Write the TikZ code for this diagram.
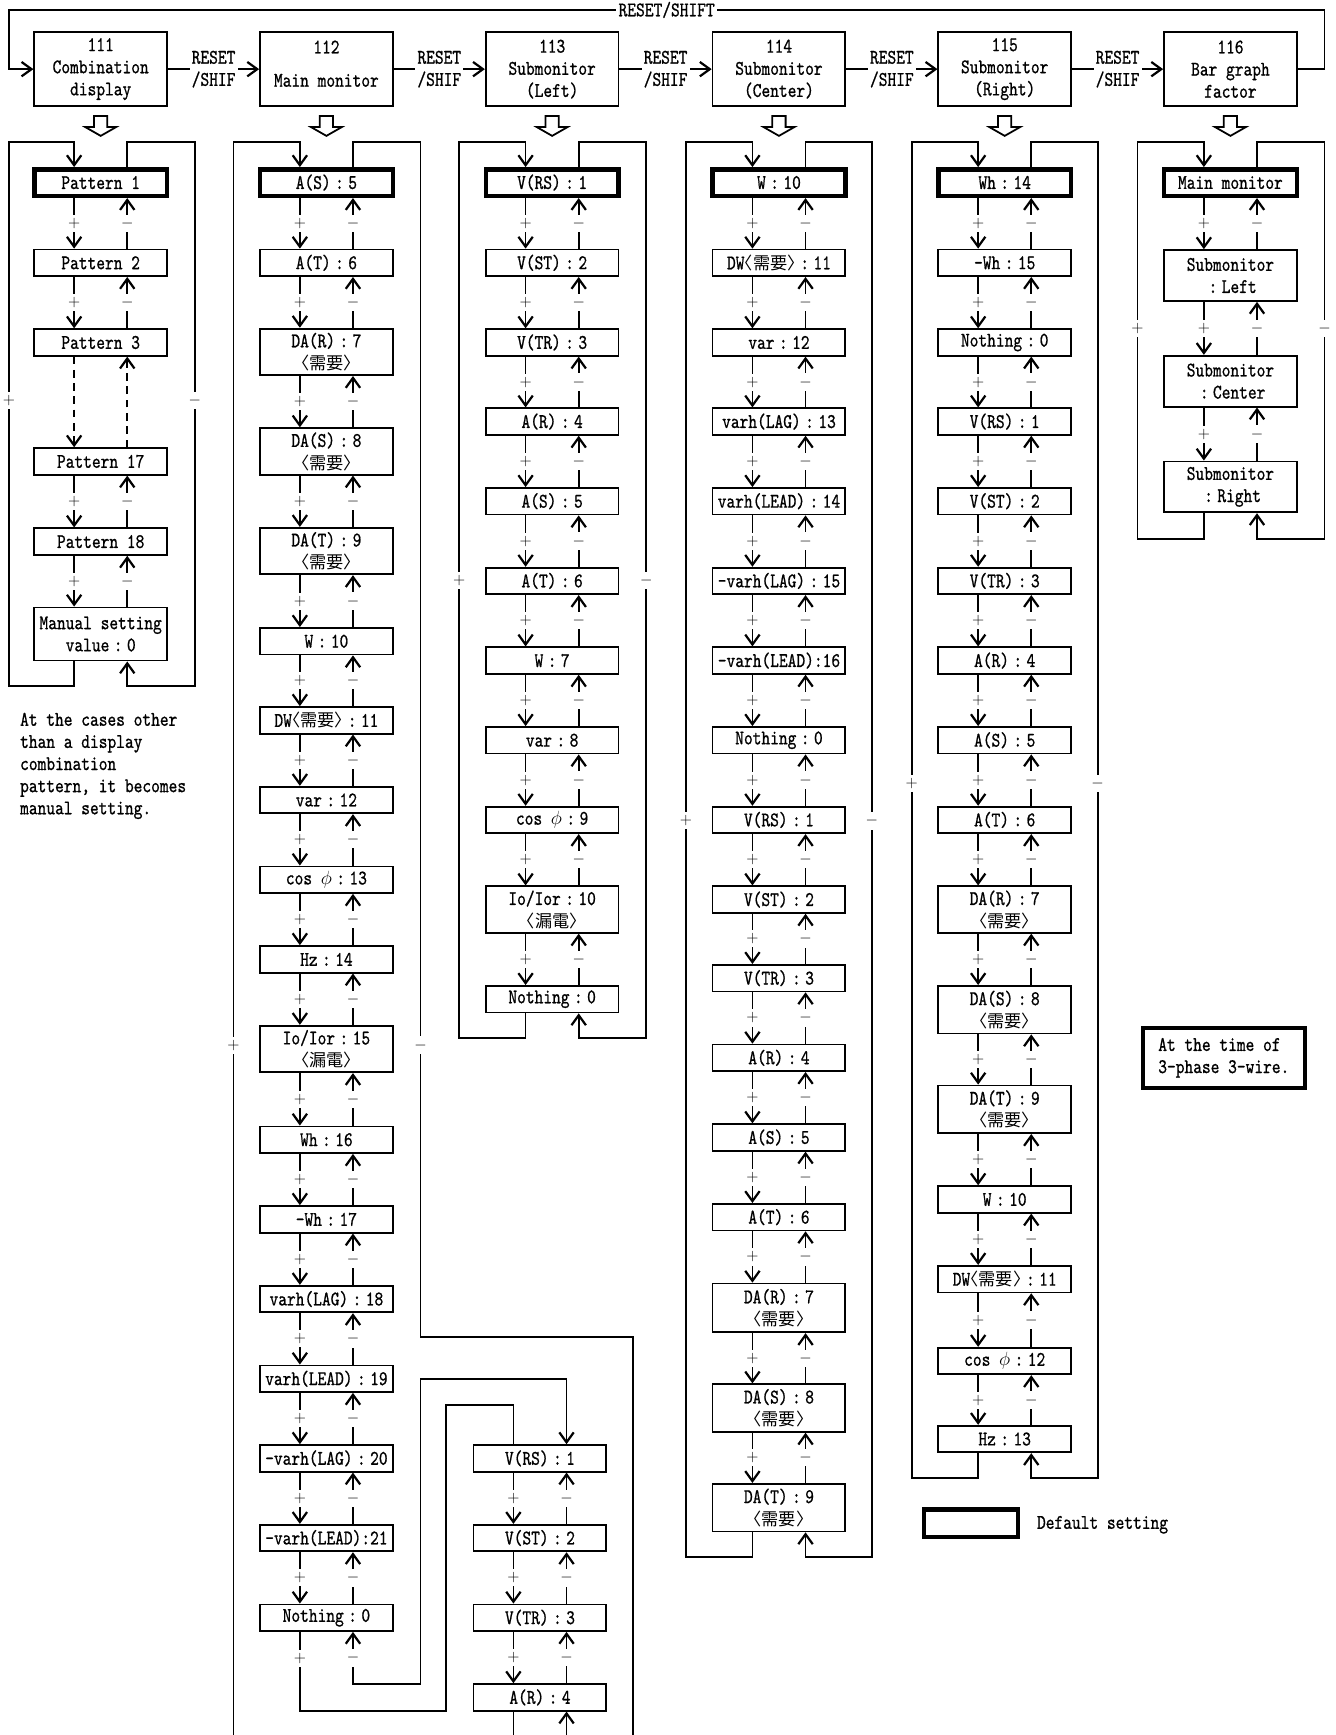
\documentclass[tikz,border=0pt]{standalone}
\usepackage{fontspec}
\setmainfont{lmmono10-regular}[Extension=.otf,FakeStretch=0.8,FakeBold=0.8]
\newfontfamily\cjk{Noto Sans CJK JP}[CharacterWidth=AlternateHalf]
\usetikzlibrary{arrows.meta}

\newcommand{\mainsz}{\fontsize{18.8}{20}\selectfont}
\newcommand{\cln}{\kern4pt:\kern4pt}
\newcommand{\dm}[1]{{\cjk\fontsize{15.5}{15.5}\selectfont 〈#1〉}}

\newcommand{\pmsteps}[3]{%
\foreach \a [evaluate=\a as \b using int(\a+1)] in {#2,...,#3}{
\draw[arr] ([xshift=-24pt]#1-\a.south) -- node[pm]{$+$} ([xshift=-24pt]#1-\b.north);
\draw[arr] ([xshift=24pt]#1-\b.north) -- node[pm]{$-$} ([xshift=24pt]#1-\a.south);
}}

\newcommand{\pmloop}[7]{%
\draw[arr] ([xshift=-24pt]#1-#2.south) |- (#3,#5) -- node[pm,pos=#6]{$+$} (#3,128) -| ([xshift=-24pt]#1-1.north);
\draw[arr] ([xshift=24pt]#1-1.north) |- (#4,128) -- node[pm,pos=#7]{$-$} (#4,#5) -| ([xshift=24pt]#1-#2.south);}

\begin{document}
\begin{tikzpicture}[x=1pt,y=-1pt,
box/.style={draw,line width=1.6pt,minimum width=120pt,minimum height=24pt,inner sep=0pt,align=center,font=\mainsz},
defbox/.style={line width=4pt},
hdr/.style={box,minimum height=67pt},
ln/.style={line width=1.6pt},
arr/.style={ln,-{Straight Barb[length=9pt,width=13pt,line width=2pt]}},
arrboth/.style={ln,{Straight Barb[length=9pt,width=13pt,line width=2pt]}-{Straight Barb[length=9pt,width=13pt,line width=2pt]}},
pm/.style={fill=white,inner sep=3pt,font=\fontsize{15}{15}\selectfont},
rs/.style={fill=white,inner sep=2pt,align=center,font=\mainsz},
txt/.style={inner sep=0pt,align=left,font=\mainsz}]
\useasboundingbox (0,0) rectangle (1207,1568);

\coordinate (tl) at (8,9);
\coordinate (tr) at (1197,9);
\coordinate (c2in) at (211,1568);
\coordinate (c2out) at (572,1568);
\coordinate (c7in) at (464,1568);
\coordinate (c7out) at (512,1568);

% header row
\node[hdr] (h1) at (91,62.5) {111\\Combination\\display};
\node[hdr] (h2) at (295,62.5) {112\\\raisebox{-10pt}[0pt][0pt]{Main monitor}\\\mbox{}};
\node[hdr] (h3) at (499,62.5) {113\\Submonitor\\(Left)};
\node[hdr] (h4) at (704,62.5) {114\\Submonitor\\(Center)};
\node[hdr] (h5) at (908,62.5) {115\\Submonitor\\(Right)};
\node[hdr] (h6) at (1112,62.5) {116\\Bar graph\\factor};

\foreach \p/\q in {h1/h2,h2/h3,h3/h4,h4/h5,h5/h6}
\draw[arr] (\p.east) -- node[rs]{RESET\\/SHIF} (\q.west);
\draw[arr] (h6.east) -| (tr) -- node[rs]{RESET/SHIFT} (tl) |- (h1.west);

\foreach \p in {h1,h2,h3,h4,h5,h6}
\draw[ln] ([shift={(-6,8)}]\p.south) -- ++(0,10) -- ++(-8,0) -- ++(14,8) -- ++(14,-8) -- ++(-8,0) -- ++(0,-10) -- cycle;

% 111
\node[box,defbox] (c1-1) at (91,165) {Pattern 1};
\foreach \n/\y/\hh/\txt in {2/237.5/24/{Pattern 2},3/309.5/24/{Pattern 3},4/417/24/{Pattern 17},5/489.5/24/{Pattern 18},6/573/48/{Manual setting\\value\cln 0}}
\node[box,minimum height=\hh] (c1-\n) at (91,\y) {\txt};
\pmsteps{c1}{1}{2}
\pmsteps{c1}{4}{5}
\draw[arr,dash pattern=on 7pt off 5pt] ([xshift=-24pt]c1-3.south) -- ([xshift=-24pt]c1-4.north);
\draw[arr,dash pattern=on 7pt off 5pt] ([xshift=24pt]c1-4.north) -- ([xshift=24pt]c1-3.south);
\pmloop{c1}{6}{8}{176}{620}{0.524}{0.476}

% 112
\node[box,defbox] (c2-1) at (295,165) {A(S)\cln 5};
\foreach \n/\y/\hh/\txt in {2/237.5/24/{A(T)\cln 6},3/318/42/{DA(R)\cln 7\\\dm{需要}},4/408/42/{DA(S)\cln 8\\\dm{需要}},5/498/42/{DA(T)\cln 9\\\dm{需要}},6/579.5/24/{W\cln 10},7/651/24/{DW\dm{需要}\cln 11},8/723/24/{var\cln 12},9/795/24/{cos $\phi$\cln 13},10/867/24/{Hz\cln 14},11/948/42/{Io/Ior\cln 15\\\dm{漏電}},12/1030/24/{Wh\cln 16},13/1102/24/{-Wh\cln 17},14/1174/24/{varh(LAG)\cln 18},15/1246/24/{varh(LEAD)\cln 19},16/1318/24/{-varh(LAG)\cln 20},17/1390/24/{-varh(LEAD):21},18/1462/24/{Nothing\cln 0}}
\node[box,minimum height=\hh] (c2-\n) at (295,\y) {\txt};
\pmsteps{c2}{1}{17}
\draw[arr] (c2in) -- node[pm,pos=0.433]{$+$} (211,128) -| ([xshift=-24pt]c2-1.north);
\draw[ln] ([xshift=24pt]c2-1.north) |- (380,128) -- node[pm,pos=0.756]{$-$} (380,1208) -| (c2out);

\foreach \n/\y/\txt in {1/1318/{V(RS)\cln 1},2/1390/{V(ST)\cln 2},3/1462/{V(TR)\cln 3},4/1534/{A(R)\cln 4}}
\node[box] (c7-\n) at (488,\y) {\txt};
\pmsteps{c7}{1}{3}
\draw[ln] ([xshift=-24pt]c2-18.south) -- node[pm]{$+$} ++(0,48) |- (403,1546) |- (464,1270) -- ([xshift=-24pt]c7-1.north);
\draw[arrboth] ([xshift=24pt]c7-1.north) |- (380,1246) |- (319,1522) -- node[pm]{$-$} ([xshift=24pt]c2-18.south);
\draw[ln] ([xshift=-24pt]c7-4.south) -- (c7in);
\draw[arr] (c7out) -- ([xshift=24pt]c7-4.south);

% 113
\node[box,defbox] (c3-1) at (499,165) {V(RS)\cln 1};
\foreach \n/\y/\hh/\txt in {2/237.5/24/{V(ST)\cln 2},3/309.5/24/{V(TR)\cln 3},4/381/24/{A(R)\cln 4},5/453/24/{A(S)\cln 5},6/525/24/{A(T)\cln 6},7/597/24/{W\cln 7},8/669/24/{var\cln 8},9/741/24/{cos $\phi$\cln 9},10/822/42/{Io/Ior\cln 10\\\dm{漏電}},11/903/24/{Nothing\cln 0}}
\node[box,minimum height=\hh] (c3-\n) at (499,\y) {\txt};
\pmsteps{c3}{1}{10}
\pmloop{c3}{11}{415}{584}{938}{0.51}{0.49}

% 114
\node[box,defbox] (c4-1) at (704,165) {W\cln 10};
\foreach \n/\y/\hh/\txt in {2/237.5/24/{DW\dm{需要}\cln 11},3/309.5/24/{var\cln 12},4/381/24/{varh(LAG)\cln 13},5/453/24/{varh(LEAD)\cln 14},6/525/24/{-varh(LAG)\cln 15},7/597/24/{-varh(LEAD):16},8/669/24/{Nothing\cln 0},9/741/24/{V(RS)\cln 1},10/813/24/{V(ST)\cln 2},11/884/24/{V(TR)\cln 3},12/956/24/{A(R)\cln 4},13/1028/24/{A(S)\cln 5},14/1100/24/{A(T)\cln 6},15/1182/44/{DA(R)\cln 7\\\dm{需要}},16/1272.5/43/{DA(S)\cln 8\\\dm{需要}},17/1362.5/43/{DA(T)\cln 9\\\dm{需要}}}
\node[box,minimum height=\hh] (c4-\n) at (704,\y) {\txt};
\pmsteps{c4}{1}{16}
\pmloop{c4}{17}{620}{788}{1407}{0.52}{0.48}

% 115
\node[box,defbox] (c5-1) at (908,165) {Wh\cln 14};
\foreach \n/\y/\hh/\txt in {2/237.5/24/{-Wh\cln 15},3/309.5/24/{Nothing\cln 0},4/381/24/{V(RS)\cln 1},5/453/24/{V(ST)\cln 2},6/525/24/{V(TR)\cln 3},7/597/24/{A(R)\cln 4},8/669/24/{A(S)\cln 5},9/741/24/{A(T)\cln 6},10/822/42/{DA(R)\cln 7\\\dm{需要}},11/912.5/43/{DA(S)\cln 8\\\dm{需要}},12/1002.5/43/{DA(T)\cln 9\\\dm{需要}},13/1084/24/{W\cln 10},14/1156/24/{DW\dm{需要}\cln 11},15/1230/24/{cos $\phi$\cln 12},16/1300.5/24/{Hz\cln 13}}
\node[box,minimum height=\hh] (c5-\n) at (908,\y) {\txt};
\pmsteps{c5}{1}{15}
\pmloop{c5}{16}{824}{992}{1336}{0.52}{0.48}

% 116
\node[box,defbox] (c6-1) at (1112,165) {Main monitor};
\foreach \n/\y/\txt in {2/249/{Submonitor\\\cln Left},3/344.5/{Submonitor\\\cln Center},4/440/{Submonitor\\\cln Right}}
\node[box,minimum height=46pt] (c6-\n) at (1112,\y) {\txt};
\pmsteps{c6}{1}{3}
\pmloop{c6}{4}{1028}{1197}{487}{0.53}{0.47}

% notes
\node[txt,anchor=north west] (cases) at (18,644) {At the cases other\\than a display\\combination\\pattern, it becomes\\manual setting.};
\node[box,line width=3.5pt,minimum width=146pt,minimum height=54pt,align=left] (note) at (1106,956) {At the time of\\3-phase 3-wire.};
\node[box,defbox,minimum width=85pt,minimum height=25pt] (dflt) at (877.5,1376.5) {};
\node[txt,anchor=west] (dflttxt) at (937,1378) {Default setting};
\end{tikzpicture}
\end{document}
